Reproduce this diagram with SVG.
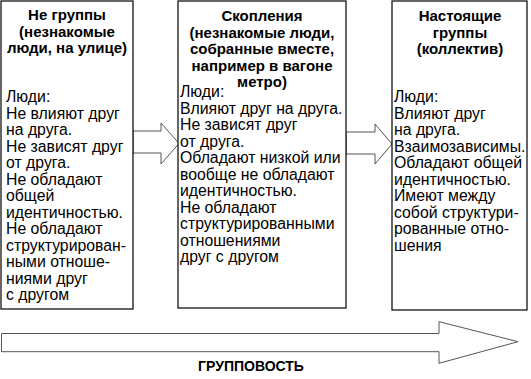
<svg xmlns="http://www.w3.org/2000/svg" width="531" height="379" viewBox="0 0 531 379">
<style>
.box{fill:#fff;stroke:#000;stroke-width:1.2}
.arr{fill:#fff;stroke:#555;stroke-width:1}
text{font-family:"Liberation Sans",Arial,sans-serif;fill:#000}
.t{font-size:15px;font-weight:bold;text-anchor:middle}
.b{font-size:15.8px}
.g{font-size:14px;font-weight:bold;text-anchor:middle}
</style>
<rect width="531" height="379" fill="#fff"/>
<g id="connectors">
<polygon class="arr" points="133,131 161,131 161,123 179,143.5 161,164 161,153 133,153"/>
<polygon class="arr" points="346,132 375,132 375,124 392,144 375,164 375,154 346,154"/>
<polygon class="arr" points="1.5,333.5 439,333.5 439,321.7 518,341.7 439,363.3 439,351.7 1.5,351.7"/>
</g>
<g id="node1">
<rect class="box" x="1" y="1" width="132" height="308"/>
<text class="t" x="67" y="20">Не группы</text>
<text class="t" x="67" y="36.5">(незнакомые</text>
<text class="t" x="67" y="53">люди, на улице)</text>
<text class="b" x="6" y="102"><tspan x="6">Люди:</tspan><tspan x="6" dy="16.5">Не влияют друг</tspan><tspan x="6" dy="16.5">на друга.</tspan><tspan x="6" dy="16.5">Не зависят друг</tspan><tspan x="6" dy="16.5">от друга.</tspan><tspan x="6" dy="16.5">Не обладают</tspan><tspan x="6" dy="16.5">общей</tspan><tspan x="6" dy="16.5">идентичностью.</tspan><tspan x="6" dy="16.5">Не обладают</tspan><tspan x="6" dy="16.5">структурирован-</tspan><tspan x="6" dy="16.5">ными отноше-</tspan><tspan x="6" dy="16.5">ниями друг</tspan><tspan x="6" dy="16.5">с другом</tspan></text>
</g>
<g id="node2">
<rect class="box" x="178" y="1" width="168" height="307"/>
<text class="t" x="262" y="21">Скопления</text>
<text class="t" x="262" y="37.5">(незнакомые люди,</text>
<text class="t" x="262" y="54">собранные вместе,</text>
<text class="t" x="262" y="70.5">например в вагоне</text>
<text class="t" x="262" y="87">метро)</text>
<text class="b" x="180" y="97"><tspan x="180">Люди:</tspan><tspan x="180" dy="16.5">Влияют друг на друга.</tspan><tspan x="180" dy="16.5">Не зависят друг</tspan><tspan x="180" dy="16.5">от друга.</tspan><tspan x="180" dy="16.5">Обладают низкой или</tspan><tspan x="180" dy="16.5">вообще не обладают</tspan><tspan x="180" dy="16.5">идентичностью.</tspan><tspan x="180" dy="16.5">Не обладают</tspan><tspan x="180" dy="16.5">структурированными</tspan><tspan x="180" dy="16.5">отношениями</tspan><tspan x="180" dy="16.5">друг с другом</tspan></text>
</g>
<g id="node3">
<rect class="box" x="392" y="1" width="135" height="309"/>
<text class="t" x="460" y="21">Настоящие</text>
<text class="t" x="460" y="37.5">группы</text>
<text class="t" x="460" y="54">(коллектив)</text>
<text class="b" x="394" y="102"><tspan x="394">Люди:</tspan><tspan x="394" dy="16.5">Влияют друг</tspan><tspan x="394" dy="16.5">на друга.</tspan><tspan x="394" dy="16.5">Взаимозависимы.</tspan><tspan x="394" dy="16.5">Обладают общей</tspan><tspan x="394" dy="16.5">идентичностью.</tspan><tspan x="394" dy="16.5">Имеют между</tspan><tspan x="394" dy="16.5">собой структури-</tspan><tspan x="394" dy="16.5">рованные отно-</tspan><tspan x="394" dy="16.5">шения</tspan></text>
</g>
<text class="g" x="251" y="371">ГРУППОВОСТЬ</text>
</svg>
